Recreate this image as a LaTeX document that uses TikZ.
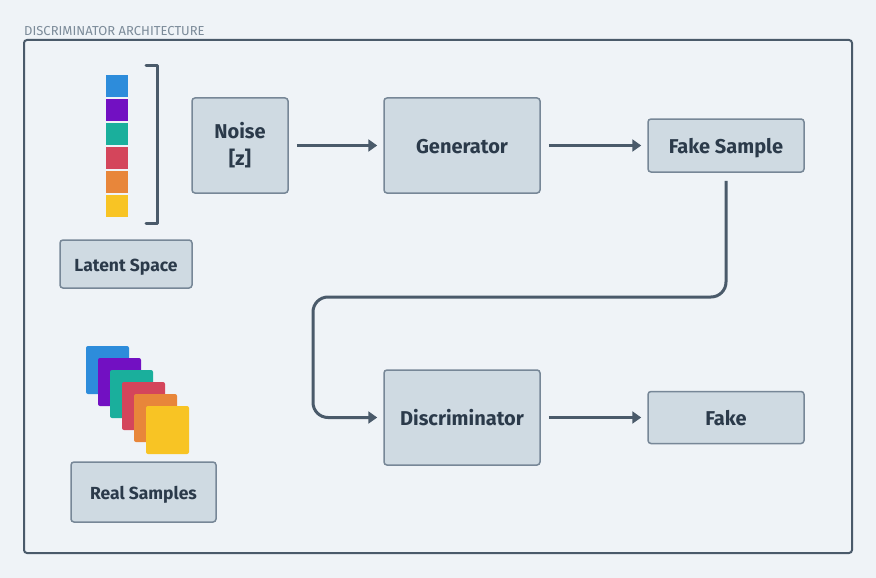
\documentclass[tikz,border=0pt]{standalone}
\usepackage{fontspec}
\setsansfont{Fira Sans}
\usetikzlibrary{arrows.meta}
\definecolor{nenxanh}{HTML}{EFF3F7}
\definecolor{hopnen}{HTML}{CFDAE2}
\definecolor{vienhop}{HTML}{778797}
\definecolor{duongnoi}{HTML}{4A5A6A}
\definecolor{chudam}{HTML}{2B3A4A}
\definecolor{chuxam}{HTML}{7C8B99}
\definecolor{oxanh}{HTML}{2D8CDB}
\definecolor{otim}{HTML}{7210C2}
\definecolor{ongoc}{HTML}{1AAF9C}
\definecolor{odo}{HTML}{D4455B}
\definecolor{ocam}{HTML}{E8863A}
\definecolor{ovang}{HTML}{F8C424}
\tikzset{
	hop/.style={draw=vienhop, line width=1.5pt, fill=hopnen, rounded corners=3pt, text=chudam, font=\sffamily\bfseries\fontsize{20}{27}\selectfont, align=center, inner sep=0pt},
	hoplon/.style={hop, text height=19pt, text depth=3pt},
	hopnho/.style={hop, font=\sffamily\bfseries\fontsize{17.5}{21}\selectfont, text height=17pt, text depth=3pt},
	mui/.style={draw=duongnoi, line width=3pt, -{Triangle[length=9pt,width=12pt]}, shorten <=8pt, shorten >=6pt}
}

\begin{document}
\begin{tikzpicture}[x=1pt, y=-1pt]
			\useasboundingbox[fill=nenxanh] (0,0) rectangle (876,578);
			\draw[duongnoi, line width=2pt, rounded corners=3pt] (24,40) rectangle (852,553);
			\node[anchor=base west, inner sep=0pt, text=chuxam, font=\sffamily\fontsize{13}{15}\selectfont] (tieude) at (24,36) {DISCRIMINATOR ARCHITECTURE};
			\foreach \mau [count=\i from 0] in {oxanh,otim,ongoc,odo,ocam,ovang}
				\fill[\mau] (106,75+24*\i) rectangle ++(22,22);
			\draw[duongnoi, line width=3pt, line cap=round, line join=round] (146,66) -- (157,66) -- (157,223) -- (146,223);
			\foreach \mau [count=\i from 0] in {oxanh,otim,ongoc,odo,ocam,ovang}
				\fill[\mau, rounded corners=2pt] (86+12*\i,346+12*\i) rectangle ++(43,48);
			\node[hopnho, minimum width=132pt, minimum height=48pt] (latent) at (126,264) {Latent Space};
			\node[hopnho, minimum width=145pt, minimum height=60pt] (real) at (143.5,492) {Real Samples};
			\node[hop, minimum width=96pt, minimum height=95pt] (noise) at (240,145.5) {Noise\\{}[z]};
			\node[hoplon, minimum width=156pt, minimum height=95pt] (gen) at (462,145.5) {Generator};
			\node[hoplon, minimum width=156pt, minimum height=53pt] (fakesample) at (726,145.5) {Fake Sample};
			\node[hoplon, minimum width=156pt, minimum height=95pt] (disc) at (462,417.5) {Discriminator};
			\node[hoplon, minimum width=156pt, minimum height=52pt] (fake) at (726,417.5) {Fake};
			\coordinate (vong) at (313,297);
			\draw[mui] (noise) -- (gen);
			\draw[mui] (gen) -- (fakesample);
			\draw[mui] (disc) -- (fake);
			\draw[mui, rounded corners=15pt] (fakesample.south) |- (vong) |- (disc.west);
		\end{tikzpicture}
\end{document}
